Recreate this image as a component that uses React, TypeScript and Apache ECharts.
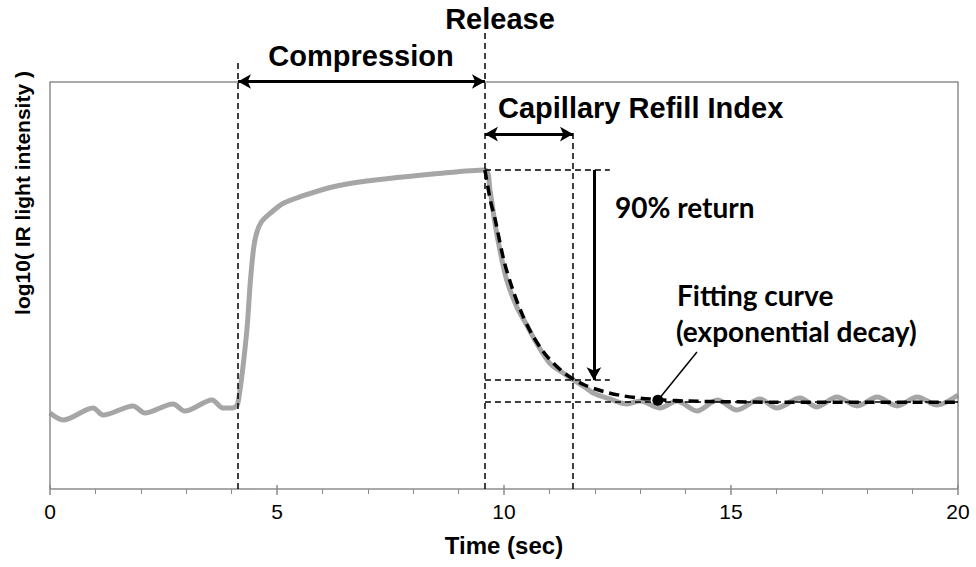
import React, { useEffect, useRef } from "react";
import * as echarts from "echarts";

// Raw signal (gray): [time (s), relative level]
const signalTime = [
  0.0, 0.29, 0.95, 1.17, 1.83, 2.09, 2.71, 2.97, 3.57, 3.81, 4.03, 4.14,
  4.33, 4.41, 4.48, 4.55, 4.66, 4.85, 5.14, 5.51, 6.24, 6.98, 7.71, 8.44, 9.58,
  9.69, 9.8, 9.91, 10.06, 10.28, 10.5, 10.72, 11.01, 11.31, 11.53, 11.82, 11.96,
  12.33, 12.71, 13.0, 13.44, 13.81, 14.25, 14.7, 15.13, 15.64, 16.01, 16.52,
  16.89, 17.33, 17.78, 18.22, 18.66, 19.1, 19.54, 20.0,
];
const signalLevel = [
  18.65, 16.93, 19.88, 18.16, 20.37, 18.65, 20.86, 19.14, 21.84, 19.88, 19.88, 21.1,
  38.21, 50.48, 58.65, 62.75, 65.6, 67.66, 70.11, 71.73, 74.18, 75.58, 76.49, 77.3, 78.28,
  73.37, 65.28, 58.65, 51.29, 44.74, 40.25, 35.75, 30.84, 28.39, 26.75, 24.71, 23.56,
  22.09, 20.86, 21.6, 19.88, 21.6, 19.14, 21.84, 19.39, 22.09, 19.88, 22.33,
  20.12, 22.58, 20.37, 22.58, 20.37, 22.58, 20.61, 23.07,
];

// Fitting curve (black dashed)
const fitTime = [
  9.58, 9.7, 9.8, 10.0, 10.2, 10.4, 10.6, 10.8, 11.0, 11.3, 11.52, 11.8, 12.2,
  12.6, 13.0, 13.44, 14.0, 15.0, 16.0, 17.0, 18.0, 19.0, 20.0,
];
const fitLevel = [
  78.3, 70.8, 66.4, 56.0, 48.7, 42.9, 38.3, 34.7, 31.9, 28.7, 27.0, 25.4, 23.9,
  22.9, 22.3, 21.9, 21.6, 21.4, 21.3, 21.3, 21.3, 21.3, 21.3,
];

// Annotation values
const compressionStart = 4.14;
const releaseTime = 9.58;
const criEnd = 11.52;
const peakLevel = 78.3;
const ninetyLevel = 26.7;
const baselineLevel = 21.3;
const returnArrowX = 11.98;
const shortGuideEnd = 12.33;
const frameTop = 100;
const criArrowLevel = 87.1;
const compressionLineTop = 104.8;
const releaseLineTop = 112.6;
const criLineTop = 87.4;
const fitDot = [13.39, 21.8];
const leaderEnd = [14.25, 33.6];

const xTicks = [0, 5, 10, 15, 20];

const App: React.FC = () => {
  const ref = useRef<HTMLDivElement>(null);

  useEffect(() => {
    if (!ref.current) return;
    const chart = echarts.init(ref.current, undefined, { renderer: "svg" });

    const dashed = { color: "#000", width: 1.5, type: [6, 4] as any };
    const frame = { color: "#8c8c8c", width: 1.5, type: "solid" as const };
    const arrowStyle = { color: "#000", width: 3, type: "solid" as const };

    const mk = (a: number[], b: number[], style: any, symbol: any = ["none", "none"]) => [
      { coord: a, symbol: symbol[0], lineStyle: style },
      { coord: b, symbol: symbol[1] },
    ];

    const arialBold = (s: number) => `bold ${s}px "Liberation Sans", Arial, sans-serif`;
    const latoBold = (s: number) => `bold ${s}px Lato, "Open Sans", sans-serif`;

    const txt = (text: string, x: number, y: number, font: string, align = "left", rotation = 0) => ({
      type: "text",
      x,
      y,
      rotation,
      silent: true,
      style: {
        text,
        font,
        fill: "#000",
        textAlign: align,
        textVerticalAlign: "middle",
        align,
        verticalAlign: "middle",
      },
    });

    chart.setOption({
      animation: false,
      grid: { left: 50, right: 18, top: 0, bottom: 78, show: false },
      xAxis: [
        {
          type: "value",
          min: 0,
          max: 20,
          interval: 5,
          axisLine: { show: true, lineStyle: { color: "#8c8c8c", width: 1.5 } },
          axisTick: { show: true, length: 6, lineStyle: { color: "#8c8c8c", width: 1.5 } },
          minorTick: { show: true, splitNumber: 5, length: 5, lineStyle: { color: "#8c8c8c", width: 1 } },
          splitLine: { show: false },
          axisLabel: {
            margin: 12,
            color: "#000",
            fontSize: 21,
            fontFamily: '"Liberation Sans", Arial, sans-serif',
            customValues: xTicks,
          },
          name: "Time (sec)",
          nameLocation: "middle",
          nameGap: 44,
          nameTextStyle: {
            color: "#000",
            fontSize: 24,
            fontWeight: "bold",
            fontFamily: '"Liberation Sans", Arial, sans-serif',
          },
        },
        {
          type: "value",
          min: 0,
          max: 20,
          interval: 5,
          position: "bottom",
          axisLine: { show: false },
          axisTick: { show: true, inside: true, length: 4, lineStyle: { color: "#8c8c8c", width: 1.5 } },
          axisLabel: { show: false },
          splitLine: { show: false },
        },
      ],
      yAxis: {
        type: "value",
        min: 0,
        max: 120,
        show: false,
        splitLine: { show: false },
      },
      series: [
        {
          type: "line",
          data: signalTime.map((t, i) => [t, signalLevel[i]]),
          showSymbol: false,
          smooth: 0.3,
          lineStyle: { color: "#a6a6a6", width: 5 },
          silent: true,
          z: 2,
        },
        {
          type: "line",
          data: fitTime.map((t, i) => [t, fitLevel[i]]),
          showSymbol: false,
          smooth: 0.3,
          lineStyle: { color: "#000", width: 3.5, type: [10, 6] },
          silent: true,
          z: 3,
          markPoint: {
            silent: true,
            data: [
              {
                coord: fitDot,
                symbol: "circle",
                symbolSize: 11,
                itemStyle: { color: "#000" },
                label: { show: false },
              },
            ],
          },
          markLine: {
            silent: true,
            animation: false,
            symbolSize: [11, 13],
            label: { show: false },
            emphasis: { disabled: true },
            data: [
              // frame
              mk([0, 0], [0, frameTop], frame),
              mk([0, frameTop], [20, frameTop], frame),
              mk([20, 0], [20, frameTop], frame),
              // dashed guides
              mk([compressionStart, 0], [compressionStart, compressionLineTop], dashed),
              mk([releaseTime, 0], [releaseTime, releaseLineTop], dashed),
              mk([criEnd, 0], [criEnd, criLineTop], dashed),
              mk([releaseTime, peakLevel], [shortGuideEnd, peakLevel], dashed),
              mk([releaseTime, ninetyLevel], [shortGuideEnd, ninetyLevel], dashed),
              mk([releaseTime, baselineLevel], [20, baselineLevel], dashed),
              // arrows
              mk([compressionStart, frameTop], [releaseTime, frameTop], arrowStyle, ["arrow", "arrow"]),
              mk([releaseTime, criArrowLevel], [criEnd, criArrowLevel], arrowStyle, ["arrow", "arrow"]),
              mk([returnArrowX, peakLevel], [returnArrowX, ninetyLevel], arrowStyle, ["none", "arrow"]),
              // leader line
              mk(fitDot, leaderEnd, { color: "#000", width: 1.5, type: "solid" }),
            ],
          },
        },
      ],
      graphic: [
        txt("Release", 500, 19, arialBold(29), "center"),
        txt("Compression", 361, 56, arialBold(29), "center"),
        txt("Capillary Refill Index", 498, 108, arialBold(29), "left"),
        txt("90% return", 615, 207, latoBold(28), "left"),
        txt("Fitting curve", 677, 295, latoBold(28), "left"),
        txt("(exponential decay)", 676, 331, latoBold(28), "left"),
        txt("log10( IR light intensity )", 22, 193, arialBold(21), "center", Math.PI / 2),
      ],
    });

    return () => chart.dispose();
  }, []);

  return <div ref={ref} style={{ width: 976, height: 567, position: "absolute", left: 0, top: 0 }} />;
};

export default App;
